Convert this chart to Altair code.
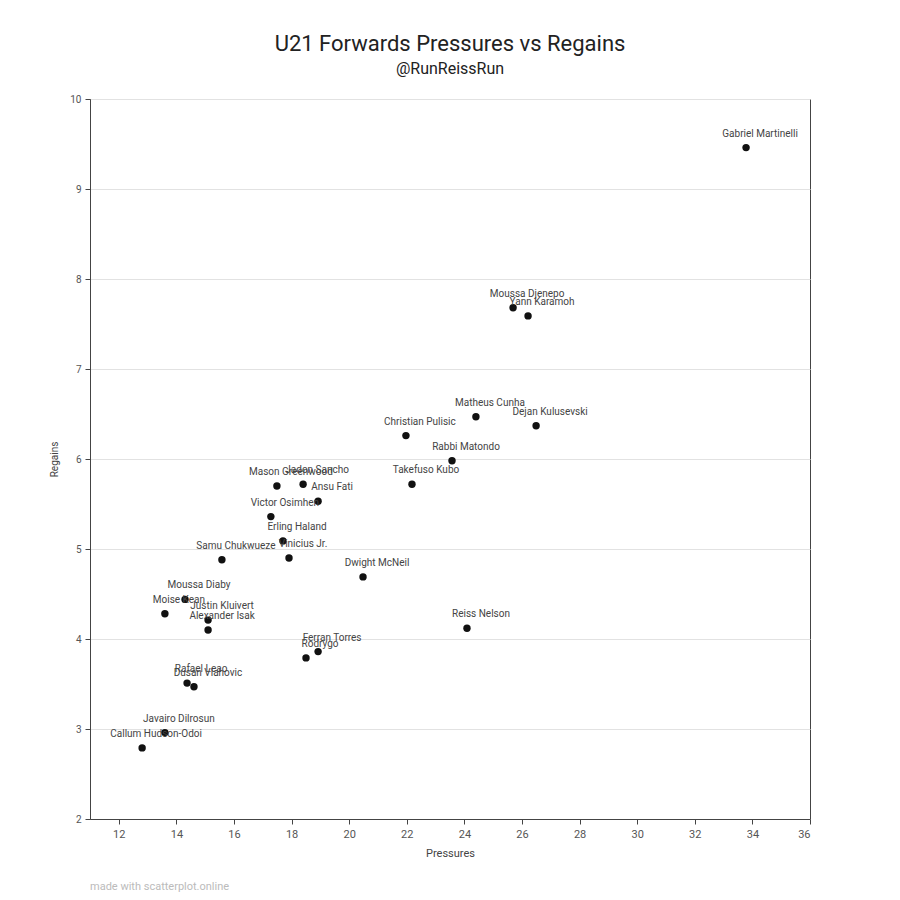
import altair as alt
import pandas as pd

players = ["Gabriel Martinelli", "Moussa Djenepo", "Yann Karamoh", "Matheus Cunha",
           "Dejan Kulusevski", "Christian Pulisic", "Rabbi Matondo", "Takefuso Kubo",
           "Mason Greenwood", "Jadon Sancho", "Ansu Fati", "Victor Osimhen",
           "Erling Haland", "Vinicius Jr.", "Samu Chukwueze", "Dwight McNeil",
           "Moussa Diaby", "Moise Kean", "Justin Kluivert", "Alexander Isak",
           "Reiss Nelson", "Ferran Torres", "Rodrygo", "Rafael Leao",
           "Dusan Vlahovic", "Javairo Dilrosun", "Callum Hudson-Odoi"]
pressures = [33.78, 25.69, 26.21, 24.40, 26.49, 21.97, 23.57, 22.18,
             17.49, 18.40, 18.92, 17.28, 17.70, 17.91, 15.58, 20.48,
             14.30, 13.60, 15.10, 15.10, 24.09, 18.92, 18.50, 14.37,
             14.61, 13.60, 12.81]
regains = [9.46, 7.68, 7.59, 6.47, 6.37, 6.26, 5.98, 5.72,
           5.70, 5.72, 5.53, 5.36, 5.09, 4.90, 4.88, 4.69,
           4.44, 4.28, 4.21, 4.10, 4.12, 3.86, 3.79, 3.51,
           3.47, 2.96, 2.79]
x_ticks = [12, 14, 16, 18, 20, 22, 24, 26, 28, 30, 32, 34, 36]
y_ticks = [2, 3, 4, 5, 6, 7, 8, 9, 10]

df = pd.DataFrame({"Player": players, "Pressures": pressures, "Regains": regains})

FONT = "Roboto"
W, H = 720, 720

xenc = alt.X("Pressures:Q",
             scale=alt.Scale(domain=[11, 36], nice=False, zero=False),
             axis=alt.Axis(values=x_ticks, grid=False, title="Pressures", format="d",
                           titleFontSize=11, titleFontWeight="normal", titleColor="#444",
                           titlePadding=8, labelFontSize=11, labelColor="#555",
                           domainColor="#444", tickColor="#444", tickSize=5,
                           labelPadding=4))
yenc = alt.Y("Regains:Q",
             scale=alt.Scale(domain=[2, 10], nice=False, zero=False),
             axis=alt.Axis(values=y_ticks, grid=True, gridColor="#e2e2e2", title="Regains",
                           format="d",
                           titleFontSize=10, titleFontWeight="normal", titleColor="#444",
                           titlePadding=10, labelFontSize=10, labelColor="#555",
                           domainColor="#444", tickColor="#444", tickSize=5,
                           labelPadding=4))

points = alt.Chart(df).mark_circle(size=55, color="#111", opacity=1).encode(
    x=xenc, y=yenc, tooltip=["Player"])

labels = alt.Chart(df).mark_text(fontSize=10, font=FONT, color="#444", dx=14, dy=-14,
                                 align="center").encode(
    x="Pressures:Q", y="Regains:Q", text="Player:N")

footer = alt.Chart(pd.DataFrame({"t": ["made with scatterplot.online"]})).mark_text(
    font=FONT, fontSize=11, color="#bbb", align="left", baseline="middle"
).encode(x=alt.value(0), y=alt.value(H + 68), text="t:N")

chart = alt.layer(points, labels, footer).properties(
    width=W, height=H,
    title=alt.TitleParams("U21 Forwards Pressures vs Regains", subtitle="@RunReissRun",
                          font=FONT, fontSize=22, fontWeight="normal", color="#222",
                          subtitleFont=FONT, subtitleFontSize=16, subtitleColor="#222",
                          anchor="middle", offset=16, subtitlePadding=5),
    autosize=alt.AutoSizeParams(type="none"),
    padding={"left": 90, "top": 99, "right": 90, "bottom": 81},
).configure_view(stroke="#444", strokeWidth=1).configure_axis(labelFont=FONT, titleFont=FONT)

chart.save("out.html", embed_options={"renderer": "svg", "actions": False})
